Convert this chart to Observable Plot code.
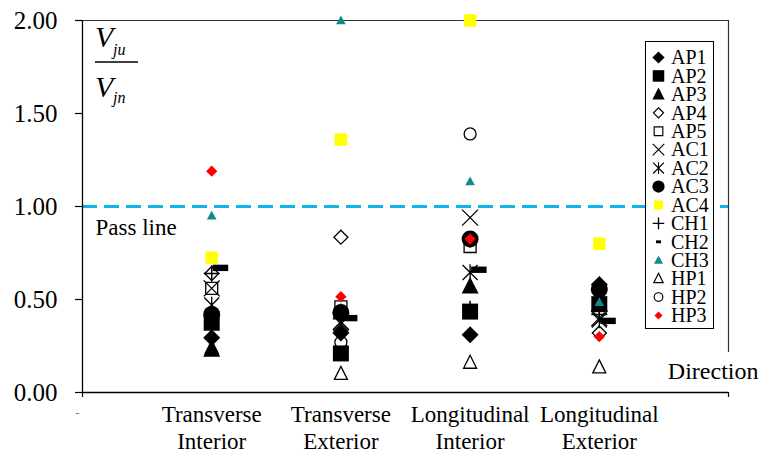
<!DOCTYPE html>
<html><head><meta charset="utf-8">
<script src="https://cdn.jsdelivr.net/npm/d3@7"></script>
<script src="https://cdn.jsdelivr.net/npm/@observablehq/plot@0.6"></script>
<style>
body{margin:0;background:#fff;}
#wrap{position:relative;width:761px;height:453px;font-family:"Liberation Serif","Times New Roman",serif;color:#000;}
#wrap > svg{position:absolute;left:0;top:0;}
#legend{position:absolute;left:645px;top:41px;width:67px;height:286px;border:1px solid #000;background:#fff;}
.ov{position:absolute;left:0;top:0;pointer-events:none;}
</style></head><body><div id="wrap"></div><script>
// ---- data ----
const categories = ["Transverse\nInterior", "Transverse\nExterior", "Longitudinal\nInterior", "Longitudinal\nExterior"];
const seriesNames = ["AP1","AP2","AP3","AP4","AP5","AC1","AC2","AC3","AC4","CH1","CH2","CH3","HP1","HP2","HP3"];
const AP1 = [0.295, 0.32, 0.31, 0.58];
const AP2 = [0.375, 0.21, 0.435, 0.475];
const AP3 = [0.23, 0.43, 0.57, 0.47];
const AP4 = [0.64, 0.835, 0.82, 0.32];
const AP5 = [0.56, 0.46, 0.785, 0.47];
const AC1 = [0.56, 0.38, 0.94, 0.40];
const AC2 = [0.47, 0.37, 0.645, 0.39];
const AC3 = [0.42, 0.43, 0.825, 0.555];
const AC4 = [0.725, 1.36, 2.00, 0.80];
const CH1 = [0.64, 0.43, 0.45, 0.42];
const CH2 = [0.67, 0.40, 0.66, 0.385];
const CH3 = [0.95, 2.00, 1.135, 0.485];
const HP1 = [0.24, 0.10, 0.16, 0.135];
const HP2 = [0.42, 0.27, 1.39, 0.55];
const HP3 = [1.19, 0.515, 0.825, 0.30];
const yTicks = [0, 0.5, 1, 1.5, 2];
const passLine = 1;

// ---- symbols ----
function sym(fn){ return {draw(c, size){ const u = Math.sqrt(size/Math.PI)/8; fn(c, u); }}; }
const diamond = h => sym((c,u)=>{ c.moveTo(0,-h*u); c.lineTo(h*u,0); c.lineTo(0,h*u); c.lineTo(-h*u,0); c.closePath(); });
const square = h => sym((c,u)=>{ c.moveTo(-h*u,-h*u); c.lineTo(h*u,-h*u); c.lineTo(h*u,h*u); c.lineTo(-h*u,h*u); c.closePath(); });
const tri = (t,b,w) => sym((c,u)=>{ c.moveTo(0,-t*u); c.lineTo(w*u,b*u); c.lineTo(-w*u,b*u); c.closePath(); });
const circ = r => sym((c,u)=>{ c.moveTo(r*u,0); c.arc(0,0,r*u,0,2*Math.PI); c.closePath(); });
const times = h => sym((c,u)=>{ c.moveTo(-h*u,-h*u); c.lineTo(h*u,h*u); c.moveTo(h*u,-h*u); c.lineTo(-h*u,h*u); });
const aster = h => sym((c,u)=>{ c.moveTo(-h*u,-h*u); c.lineTo(h*u,h*u); c.moveTo(h*u,-h*u); c.lineTo(-h*u,h*u); c.moveTo(0,-h*1.1*u); c.lineTo(0,h*1.1*u); });
const plus = h => sym((c,u)=>{ c.moveTo(-h*u,0); c.lineTo(h*u,0); c.moveTo(0,-h*u); c.lineTo(0,h*u); });
const rectS = (x0,x1,y0,y1) => sym((c,u)=>{ c.moveTo(x0*u,y0*u); c.lineTo(x1*u,y0*u); c.lineTo(x1*u,y1*u); c.lineTo(x0*u,y1*u); c.closePath(); });

const styles = {
  AP1:{symbol:diamond(8.5), fill:"#000", stroke:"none"},
  AP2:{symbol:square(8), fill:"#000", stroke:"none"},
  AP3:{symbol:tri(9.5,7,8.5), fill:"#000", stroke:"none"},
  AP4:{symbol:diamond(7), fill:"none", stroke:"#000", strokeWidth:1.3},
  AP5:{symbol:square(6), fill:"none", stroke:"#000", strokeWidth:1.3},
  AC1:{symbol:times(8), fill:"none", stroke:"#000", strokeWidth:1.3},
  AC2:{symbol:aster(7.5), fill:"none", stroke:"#000", strokeWidth:1.3},
  AC3:{symbol:circ(8.5), fill:"#000", stroke:"none"},
  AC4:{symbol:square(6.2), fill:"#ffff00", stroke:"none"},
  CH1:{symbol:plus(8), fill:"none", stroke:"#000", strokeWidth:1.5},
  CH2:{symbol:rectS(1,16.5,-3.2,3.2), fill:"#000", stroke:"none"},
  CH3:{symbol:tri(5,3.8,4.8), fill:"#138a8a", stroke:"none"},
  HP1:{symbol:tri(7.5,5.5,6.5), fill:"none", stroke:"#000", strokeWidth:1.3},
  HP2:{symbol:circ(6), fill:"none", stroke:"#000", strokeWidth:1.3},
  HP3:{symbol:diamond(5.6), fill:"#ff0000", stroke:"none"}
};
const values = {AP1,AP2,AP3,AP4,AP5,AC1,AC2,AC3,AC4,CH1,CH2,CH3,HP1,HP2,HP3};

const dotMarks = seriesNames.map(name => {
  const data = values[name].map((v,i)=>({x:i+1, y:v}));
  const s = styles[name];
  return Plot.dot(data, {x:"x", y:"y", r:8, symbol:s.symbol, fill:s.fill, stroke:s.stroke, strokeWidth:s.strokeWidth||1});
});

const font = "Liberation Serif, Times New Roman, serif";
const plot = Plot.plot({
  width:761, height:453,
  marginLeft:82, marginRight:33, marginTop:20, marginBottom:61,
  style:{fontFamily:font, background:"transparent", color:"#000", overflow:"visible"},
  x:{domain:[0,5], axis:null},
  y:{domain:[0,2], axis:null},
  marks:[
    Plot.ruleY([passLine], {stroke:"#0fb4e8", strokeWidth:3, strokeDasharray:"15,7"}),
    Plot.ruleY([0], {stroke:"#000", strokeWidth:1.3}),
    Plot.ruleY([2], {stroke:"#333", strokeWidth:1.2}),
    Plot.ruleX([0], {stroke:"#000", strokeWidth:1.3}),
    Plot.ruleX([5], {y1:0.215, y2:2, stroke:"#333", strokeWidth:1.2}),
    Plot.axisY({ticks:yTicks, tickFormat:d3.format(".2f"), tickSize:7, tickPadding:18, fontSize:25, strokeWidth:1.2, label:null}),
    Plot.axisX({ticks:[0,5], tickSize:5, tickFormat:()=>"", strokeWidth:1.2, label:null}),
    Plot.axisX({ticks:[1,2,3,4], tickFormat:i=>categories[i-1], tickSize:0, tickPadding:10, fontSize:23, lineHeight:1.17, label:null}),
    Plot.text([passLine], {y:d=>d, text:()=>"Pass line", frameAnchor:"left", dx:13, dy:21, textAnchor:"start", fontSize:23}),
    Plot.text([0], {x:()=>5, y:d=>d, text:()=>"Direction", dx:30, dy:-21, textAnchor:"end", fontSize:24}),
    Plot.text([0], {x:d=>d, y:d=>d, text:()=>"-", dx:-5, dy:20, fontSize:13, fill:"#777"}),
    ...dotMarks
  ]
});
const wrap = document.getElementById("wrap");
wrap.appendChild(plot);

// y-axis label (fraction)
const ov = document.createElement("div");
ov.className = "ov";
ov.innerHTML = `<svg width="761" height="453" style="font-family:'Liberation Serif',serif">
<text x="95" y="47" font-style="italic" font-size="30">V</text>
<text x="113" y="55" font-style="italic" font-size="16">ju</text>
<line x1="95" x2="138" y1="62" y2="62" stroke="#000" stroke-width="1.5"/>
<text x="95" y="97" font-style="italic" font-size="30">V</text>
<text x="113" y="103" font-style="italic" font-size="16">jn</text>
</svg>`;
wrap.appendChild(ov);

// legend
const legendSymbols = Object.assign({}, ...seriesNames.map(n => ({[n]: styles[n].symbol})));
legendSymbols.CH2 = rectS(-3.5,3.5,-2,2);
const lg = document.createElement("div");
lg.id = "legend";
let html = `<svg width="67" height="286" style="position:absolute;left:0;top:0;font-family:'Liberation Serif',serif">`;
seriesNames.forEach((n,i)=>{
  const s = styles[n];
  const p = d3.path();
  const scale = (n==="CH3") ? 0.95 : 0.72;
  legendSymbols[n].draw(p, Math.PI*64*scale*scale);
  const cy = 15.5 + i*18.43;
  html += `<g transform="translate(12.5,${cy})"><path d="${p}" fill="${s.fill}" stroke="${s.stroke}" stroke-width="${(s.strokeWidth||1)*0.9}"/></g>`;
  html += `<text x="25" y="${cy}" dy="0.34em" font-size="20">${n}</text>`;
});
html += `</svg>`;
lg.innerHTML = html;
wrap.appendChild(lg);
</script></body></html>
